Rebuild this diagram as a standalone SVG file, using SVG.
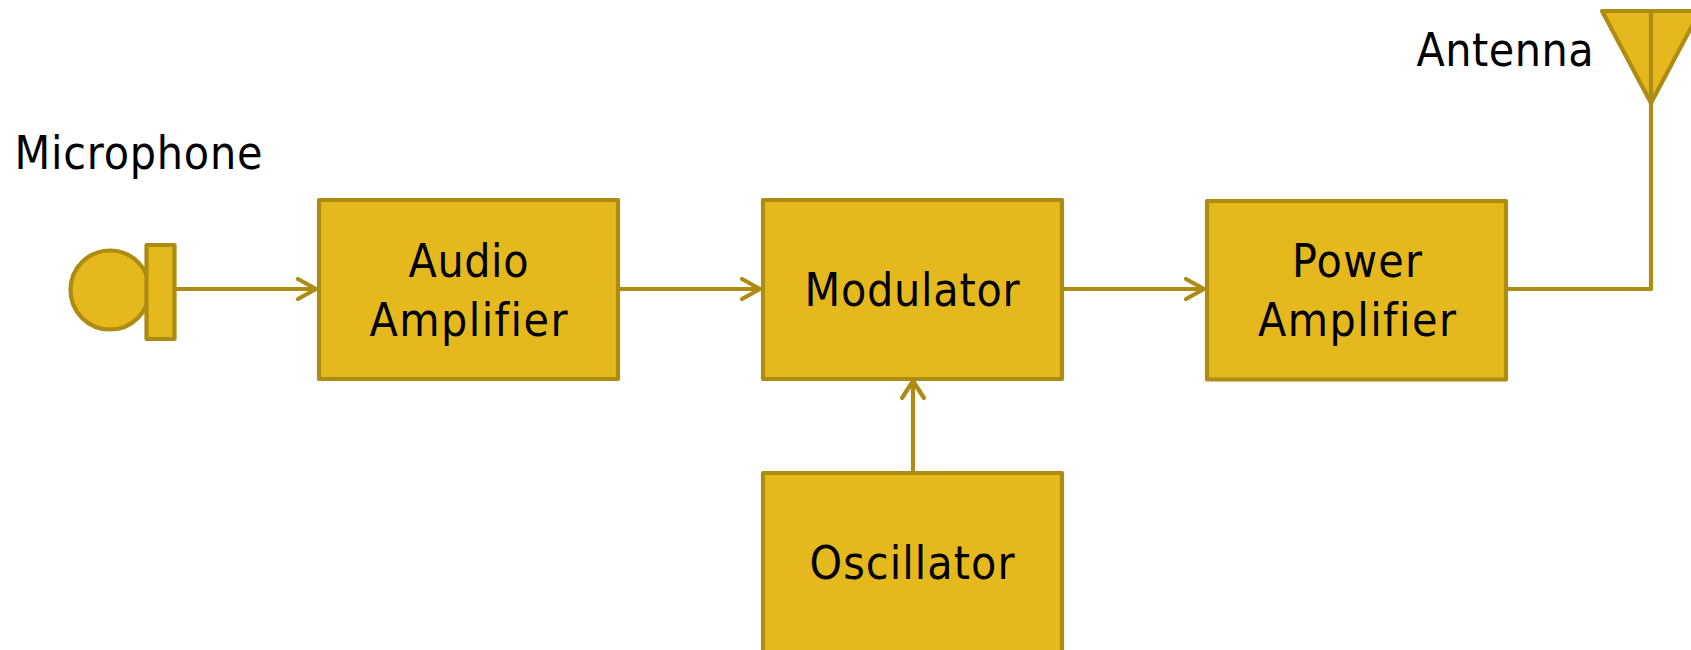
<svg xmlns="http://www.w3.org/2000/svg" width="1691" height="650" viewBox="0 0 1691 650">
<style>
.s{fill:#e5b91e;stroke:#ac8c12;stroke-width:4.200;stroke-linejoin:round}
.c{fill:none;stroke:#ac8c12;stroke-width:4.200;stroke-linecap:round;stroke-linejoin:round}
text{font-family:"DejaVu Sans Condensed","DejaVu Sans",sans-serif;font-stretch:condensed;font-size:46px;font-variant-ligatures:none;fill:#000;text-anchor:middle}
</style>
<rect width="1691" height="650" fill="#fff"/>
<g id="connectors">
<path class="c" d="M175 289H316M298 279L316 289L298 299"/>
<path class="c" d="M618 289H760M742 279L760 289L742 299"/>
<path class="c" d="M1062 289H1204M1186 279L1204 289L1186 299"/>
<path class="c" d="M913 473V382M902 398L913 381L924 398"/>
<path class="c" d="M1506 289H1651V100"/>
</g>
<g id="microphone">
<circle class="s" cx="110" cy="290" r="39.500"/>
<rect class="s" x="146.500" y="245" width="28" height="94"/>
<text x="138.500" y="169" textLength="248">Microphone</text>
</g>
<g id="audio-amplifier">
<rect class="s" x="319" y="200" width="299" height="179"/>
<text x="468.500" y="277" textLength="120">Audio</text>
<text x="468.500" y="336" textLength="198">Amplifier</text>
</g>
<g id="modulator">
<rect class="s" x="763" y="200" width="299" height="179"/>
<text x="912" y="306" textLength="215">Modulator</text>
</g>
<g id="power-amplifier">
<rect class="s" x="1207" y="201" width="299" height="178.500"/>
<text x="1357" y="277" textLength="130">Power</text>
<text x="1357" y="336" textLength="198">Amplifier</text>
</g>
<g id="oscillator">
<rect class="s" x="763" y="473" width="299" height="190"/>
<text x="912" y="579" textLength="205">Oscillator</text>
</g>
<g id="antenna">
<path class="s" d="M1602 11H1700L1651 103Z"/>
<path class="c" d="M1651 11V103" style="stroke-linecap:butt"/>
<text x="1505" y="66" textLength="177">Antenna</text>
</g>
</svg>
